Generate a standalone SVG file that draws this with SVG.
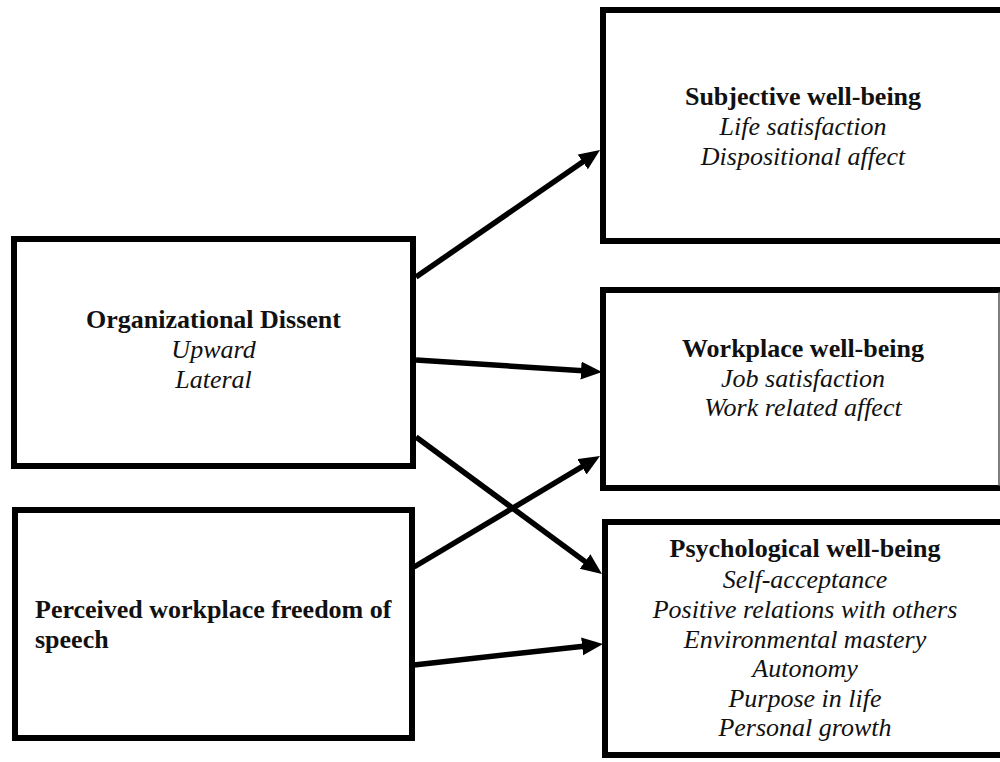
<svg xmlns="http://www.w3.org/2000/svg" width="1000" height="762" viewBox="0 0 1000 762">
<style>
  .box { fill: #ffffff; stroke: #000000; stroke-width: 6; }
  .t { font-family: "Liberation Serif", "Times New Roman", serif; font-size: 26px; fill: #111111; }
  .b { font-weight: bold; }
  .i { font-style: italic; }
  .c { text-anchor: middle; }
  .conn { stroke: #000000; stroke-width: 5.5; fill: none; marker-end: url(#arrow); }
</style>
<defs>
  <marker id="arrow" markerUnits="userSpaceOnUse" markerWidth="24" markerHeight="20" refX="6" refY="9" orient="auto">
    <path d="M0,0 L21,9 L0,18 z" fill="#000000"/>
  </marker>
</defs>
<rect width="1000" height="762" fill="#ffffff"/>

<g id="node-subjective">
  <rect class="box" x="603" y="10" width="412" height="231"/>
  <text class="t b c" x="803" y="105">Subjective well-being</text>
  <text class="t i c" x="803" y="135">Life satisfaction</text>
  <text class="t i c" x="803" y="165">Dispositional affect</text>
</g>

<g id="node-workplace">
  <rect class="box" x="603" y="290" width="412" height="198"/>
  <line x1="999" y1="292" x2="999" y2="486" stroke="#555555" stroke-width="1.5"/>
  <text class="t b c" x="803" y="357">Workplace well-being</text>
  <text class="t i c" x="803" y="387">Job satisfaction</text>
  <text class="t i c" x="803" y="416">Work related affect</text>
</g>

<g id="node-psychological">
  <rect class="box" x="605" y="522" width="412" height="233"/>
  <text class="t b c" x="805" y="557">Psychological well-being</text>
  <text class="t i c" x="805" y="588">Self-acceptance</text>
  <text class="t i c" x="805" y="618">Positive relations with others</text>
  <text class="t i c" x="805" y="648">Environmental mastery</text>
  <text class="t i c" x="805" y="677">Autonomy</text>
  <text class="t i c" x="805" y="707">Purpose in life</text>
  <text class="t i c" x="805" y="736">Personal growth</text>
</g>

<g id="node-dissent">
  <rect class="box" x="14" y="239" width="399" height="227"/>
  <text class="t b c" x="213.5" y="328">Organizational Dissent</text>
  <text class="t i c" x="213.5" y="358">Upward</text>
  <text class="t i c" x="213.5" y="388">Lateral</text>
</g>

<g id="node-freedom">
  <rect class="box" x="15" y="510" width="397" height="228"/>
  <text class="t b" x="35" y="618">Perceived workplace freedom of</text>
  <text class="t b" x="35" y="648">speech</text>
</g>

<g id="connectors">
  <line class="conn" x1="416" y1="277" x2="587.7" y2="158.5"/>
  <line class="conn" x1="416" y1="360" x2="587" y2="371"/>
  <line class="conn" x1="416" y1="437" x2="589.9" y2="565.1"/>
  <line class="conn" x1="414" y1="567" x2="587.1" y2="463.7"/>
  <line class="conn" x1="414" y1="665" x2="588.1" y2="645.7"/>
</g>
</svg>
